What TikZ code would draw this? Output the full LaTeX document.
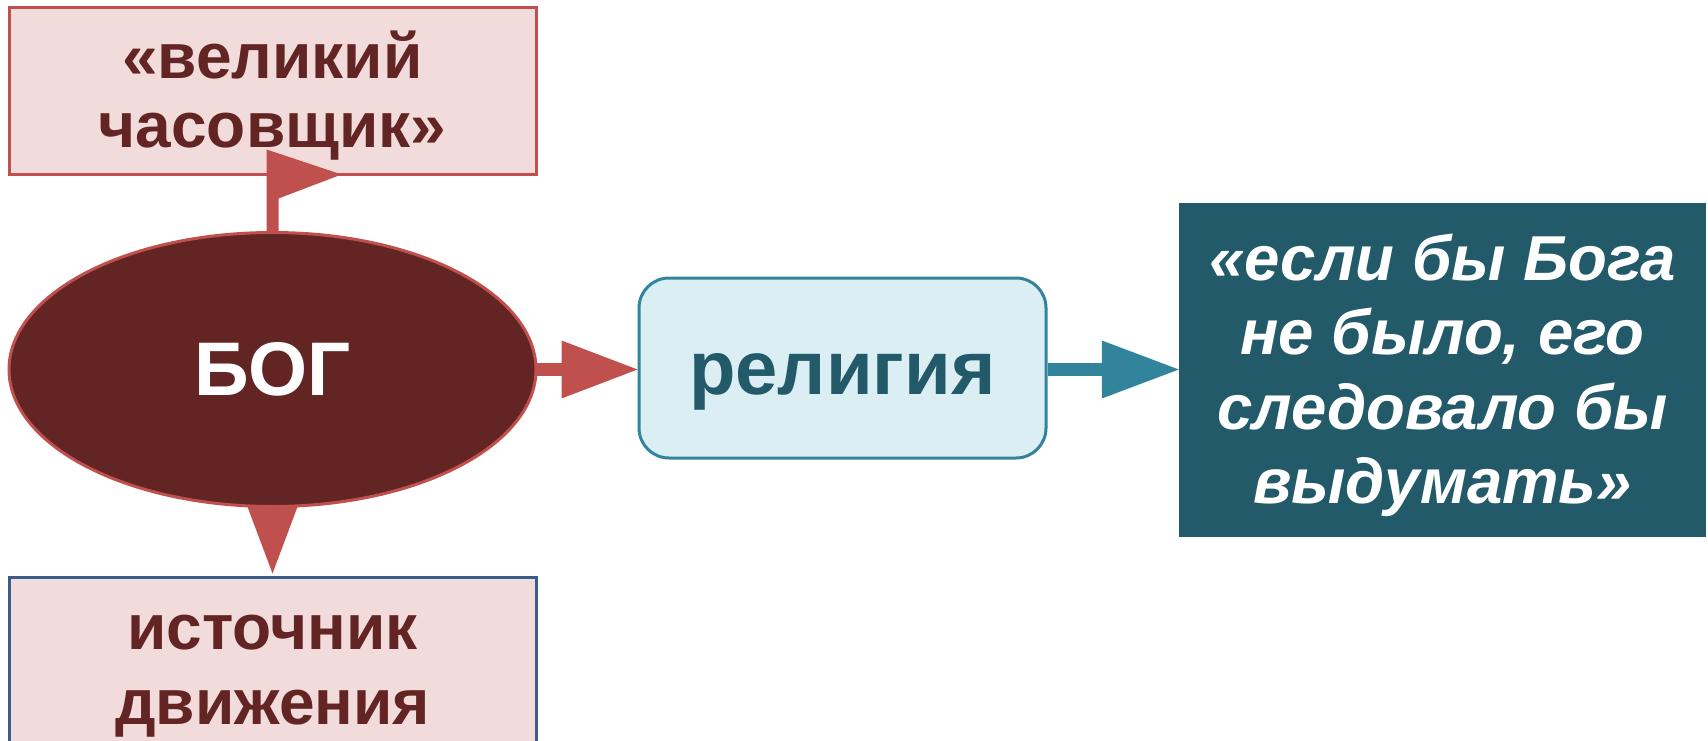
\documentclass[tikz,border=0pt]{standalone}
\usepackage{fontspec}
\setmainfont{Liberation Sans}
\usetikzlibrary{shapes.geometric,calc}
\definecolor{bred}{HTML}{C0504D}
\definecolor{bpink}{HTML}{F2DCDB}
\definecolor{dred}{HTML}{632523}
\definecolor{bblue}{HTML}{385D8A}
\definecolor{tealb}{HTML}{31849B}
\definecolor{lteal}{HTML}{DBEEF3}
\definecolor{dteal}{HTML}{225A69}
\begin{document}
\begin{tikzpicture}[x=1pt,y=-1pt,
  pinkbox/.style={rectangle, fill=bpink, line width=3pt, inner sep=0pt,
    minimum width=527pt, align=center, text=dred},
  godnode/.style={ellipse, fill=dred, draw=bred, line width=3pt, inner sep=0pt,
    minimum width=527pt, minimum height=274pt, text=white,
    font=\bfseries\fontsize{76}{80}\selectfont},
  relnode/.style={rectangle, rounded corners=30pt, fill=lteal, draw=tealb, line width=3pt,
    inner sep=0pt, minimum width=407pt, minimum height=180pt, text=dteal,
    text height=52pt, text depth=0pt,
    font=\bfseries\fontsize{76}{80}\selectfont},
  quotenode/.style={rectangle, fill=dteal, inner sep=0pt, minimum width=527pt,
    minimum height=334pt, text=white, align=center,
    font=\bfseries\itshape\fontsize{63.5}{74.5}\selectfont},
  stem/.style={line width=13pt},
]
\useasboundingbox (0,0) rectangle (1708,741);
% boxes
\node[pinkbox, draw=bred, minimum height=166pt, font=\bfseries\fontsize{64}{69}\selectfont]
  (top) at (272.5,91) {\rule{0pt}{56pt}«великий\\часовщик»};
\node[pinkbox, draw=bblue, minimum height=198pt, font=\bfseries\fontsize{64}{75}\selectfont]
  (src) at (272.5,676) {источник\\движения};
\coordinate (godc) at (272.5,369.5);
\node[relnode] (rel) at (842.5,368) {религия};
\node[quotenode] (quote) at (1442.5,369.5)
  {\rule{0pt}{58pt}«если бы Бога\\не было, его\\следовало бы\\выдумать»};
% connectors behind the ellipse
\fill[bred] ($(godc)+(-6,-132)$) -- ($(godc)+(-6,-220)$) -- ($(godc)+(69,-195)$)
  -- ($(godc)+(6,-171)$) -- ($(godc)+(6,-132)$) -- cycle;
\fill[bred] ($(src.north)+(-27,-74)$) -- ($(src.north)+(27,-74)$) -- ($(src.north)+(0,-2)$) -- cycle;
\coordinate (relin) at (rel.west |- godc);
\draw[bred, stem] (godc) -- ($(relin)+(-74,0)$);
\fill[bred] ($(relin)+(-76,-29)$) -- (relin) -- ($(relin)+(-76,29)$) -- cycle;
\node[godnode] (god) at (godc) {БОГ};
\coordinate (relout) at (rel.east |- quote.west);
\draw[tealb, stem] (relout) -- ($(quote.west)+(-75,0)$);
\fill[tealb] ($(quote.west)+(-77,-29)$) -- (quote.west) -- ($(quote.west)+(-77,29)$) -- cycle;
\end{tikzpicture}
\end{document}
